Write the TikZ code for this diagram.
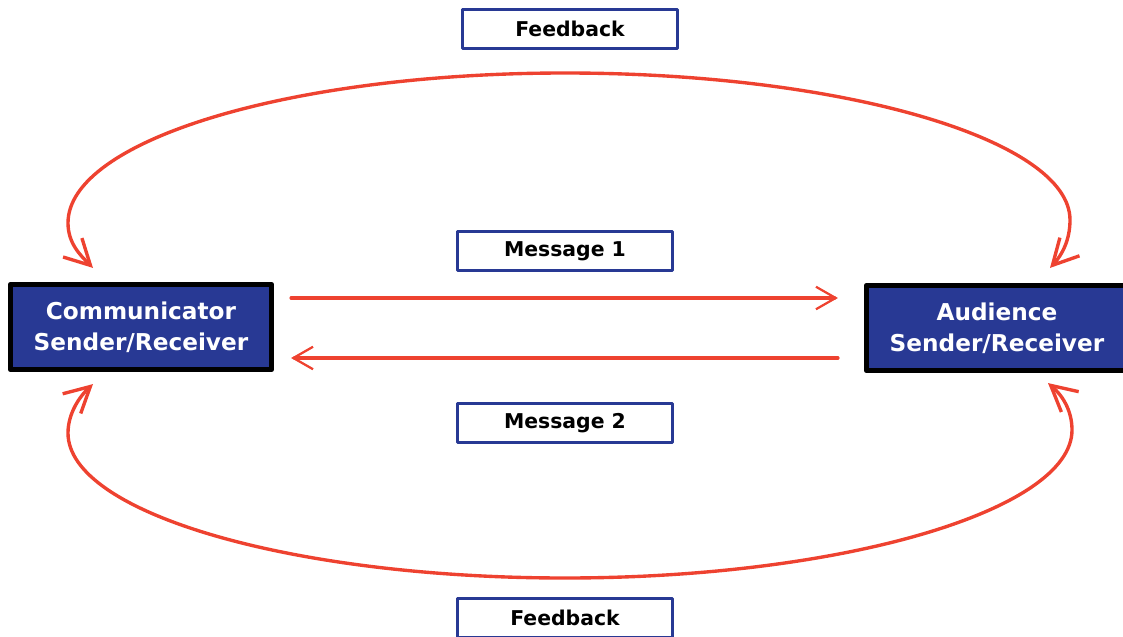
\documentclass[tikz,border=0pt]{standalone}
\usepackage{fontspec}
\setmainfont{DejaVu Sans}
\usetikzlibrary{arrows.meta,calc}

\definecolor{partyblue}{RGB}{40,57,148}
\definecolor{flowred}{RGB}{238,66,48}

\begin{document}
\begin{tikzpicture}[
		x=0.025cm, y=-0.025cm,   % one unit = one pixel, y grows downwards
		line cap=round, line join=round,
		>=Straight Barb,
		% --- styles ---
		endbox/.style={draw=black, line width=3.5pt, fill=partyblue, text=white,
			align=center, inner sep=0pt, minimum width=6.53cm, minimum height=2.13cm,
			font=\bfseries\fontsize{16.5}{22}\selectfont},
		labelbox/.style={draw=partyblue, line width=2.1pt, fill=white,
			inner sep=0pt, minimum width=5.375cm, minimum height=0.975cm,
			font=\bfseries\fontsize{14.5}{17}\selectfont},
		msgline/.style={flowred, line width=2.4pt,
			-{Straight Barb[length=14pt, width=16pt, line width=1.6pt]}},
		fbcurve/.style={flowred, line width=2.4pt,
			{Straight Barb[length=18pt, width=19pt]}-{Straight Barb[length=18pt, width=19pt]}}
		]
		
		% ---------- Canvas ----------
		\useasboundingbox (0,0) rectangle (1123,637);
		
		% ---------- Sender and receiver boxes ----------
		\node[endbox] (comm) at (141,327) {Communicator\\Sender/Receiver};
		\node[endbox] (aud) at (997,328) {Audience\\Sender/Receiver};
		
		% ---------- Labels ----------
		\node[labelbox] (fbtop) at (570,29) {Feedback};
		\node[labelbox] (msg1) at (565,251) {Message 1};
		\node[labelbox] (msg2) at (565,423) {Message 2};
		\node[labelbox] (fbbot) at (565,618) {Feedback};
		
		% ---------- Messages ----------
		\draw[msgline] ($(comm.east)+(17,-29)$) -- ($(aud.west)+(-26,-30)$);
		\draw[msgline] ($(aud.west)+(-26,30)$) -- ($(comm.east)+(17,31)$);
		
		% ---------- Feedback loops ----------
		\coordinate (tl) at ($(comm.north)+(-48,-14)$);
		\coordinate (tr) at ($(aud.north)+(53,-15)$);
		\coordinate (bl) at ($(comm.south)+(-48,12)$);
		\coordinate (br) at ($(aud.south)+(51,10)$);
		
		\draw[fbcurve] (tl) .. controls (80,255) and (68,243) .. (68,223)
		.. controls (68,140) and (292,73) .. (565,73)
		.. controls (843,73) and (1070,140) .. (1070,220)
		.. controls (1070,240) and (1062,255) .. (tr);
		
		\draw[fbcurve] (bl) .. controls (80,396) and (68,413) .. (68,433)
		.. controls (68,513) and (292,578) .. (565,578)
		.. controls (843,578) and (1072,510) .. (1072,430)
		.. controls (1072,410) and (1062,395) .. (br);
		
	\end{tikzpicture}
\end{document}
